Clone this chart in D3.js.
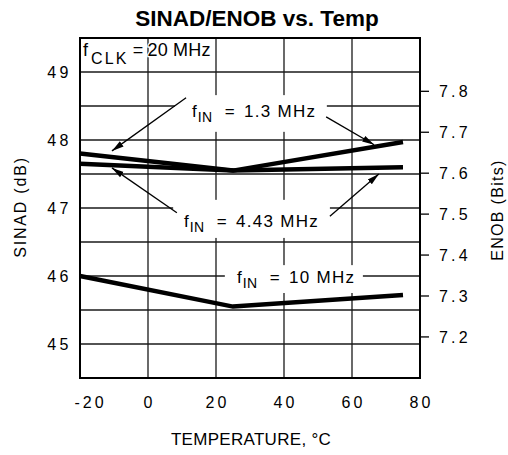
<!DOCTYPE html>
<html>
<head>
<meta charset="utf-8">
<script src="https://cdn.jsdelivr.net/npm/d3@7"></script>
<style>
  html, body { margin: 0; padding: 0; background: #fff; }
  svg { display: block; }
  text { font-family: "Liberation Sans", Arial, sans-serif; fill: #000; }
</style>
</head>
<body>
<svg id="chart" width="508" height="455"></svg>
<script>
// ---- data ----
const temps = [-20, 25, 75];
const sinad_1_3MHz = [47.80, 47.55, 47.97];
const sinad_4_43MHz = [47.65, 47.55, 47.60];
const sinad_10MHz = [46.00, 45.55, 45.72];
const xTicks = [-20, 0, 20, 40, 60, 80];
const yTicks = [45, 46, 47, 48, 49];
const yGrid = [45, 45.5, 46, 46.5, 47, 47.5, 48, 48.5, 49];
const enobTicks = [7.2, 7.3, 7.4, 7.5, 7.6, 7.7, 7.8];
const xGrid = [0, 20, 40, 60];

(function () {
const svg = d3.select("#chart");
const pL = 80, pR = 420, pT = 38, pB = 378;

const x = d3.scaleLinear().domain([-20, 80]).range([pL, pR]);
const y = d3.scaleLinear().domain([44.5, 49.5]).range([pB, pT]);
const toEnob = s => (s - 1.76) / 6.02;
const yR = d3.scaleLinear().domain([toEnob(44.5), toEnob(49.5)]).range([pB, pT]);

// title
svg.append("text").attr("x", 257).attr("y", 26).attr("text-anchor", "middle")
  .style("font-weight", "bold").style("font-size", "22.5px").text("SINAD/ENOB vs. Temp");

// grid
const grid = svg.append("g").attr("stroke", "#1a1a1a").attr("stroke-width", 1.3);
grid.selectAll("line.h").data(yGrid).join("line").attr("class", "h")
  .attr("x1", pL).attr("x2", pR).attr("y1", d => y(d)).attr("y2", d => y(d));
grid.selectAll("line.v").data(xGrid).join("line").attr("class", "v")
  .attr("y1", pT).attr("y2", pB).attr("x1", d => x(d)).attr("x2", d => x(d));

// label background boxes (white)
function box(t0, t1, s0, s1) {
  svg.append("rect").attr("x", x(t0)).attr("y", y(s0))
    .attr("width", x(t1) - x(t0)).attr("height", y(s1) - y(s0)).attr("fill", "#fff");
}
box(7.9, 52.6, 48.66, 48.12);   // 1.3 MHz label
box(7.4, 53.5, 47.12, 46.56);   // 4.43 MHz label
box(22.6, 63.2, 46.16, 45.75);  // 10 MHz label

// frame
svg.append("rect").attr("x", pL).attr("y", pT).attr("width", pR - pL).attr("height", pB - pT)
  .attr("fill", "none").attr("stroke", "#000").attr("stroke-width", 2);

// left axis labels
svg.append("g").selectAll("text").data(yTicks).join("text")
  .attr("x", 72).attr("y", d => y(d) + 6).attr("text-anchor", "end")
  .style("font-size", "16px").style("letter-spacing", "3.5px").text(d => d);

// bottom axis labels
svg.append("g").selectAll("text").data(xTicks).join("text")
  .attr("x", d => x(d) + 1.5 + (d < 0 ? 9 : 0)).attr("y", 408).attr("text-anchor", "middle")
  .style("font-size", "16px").style("letter-spacing", "3px").text(d => d);

// right axis (ENOB)
const ra = svg.append("g");
ra.selectAll("line").data(enobTicks).join("line")
  .attr("x1", pR).attr("x2", pR + 9).attr("y1", d => yR(d)).attr("y2", d => yR(d))
  .attr("stroke", "#000").attr("stroke-width", 1.3);
ra.selectAll("text").data(enobTicks).join("text")
  .attr("x", 439).attr("y", d => yR(d) + 6)
  .style("font-size", "16px").style("letter-spacing", "3.2px").text(d => d.toFixed(1));

// axis titles
svg.append("text").attr("transform", "translate(26,207) rotate(-90)").attr("text-anchor", "middle")
  .style("font-size", "16px").style("letter-spacing", "1.8px").text("SINAD (dB)");
svg.append("text").attr("transform", "translate(503,210) rotate(-90)").attr("text-anchor", "middle")
  .style("font-size", "16px").style("letter-spacing", "1.3px").text("ENOB (Bits)");
svg.append("text").attr("x", 251).attr("y", 445).attr("text-anchor", "middle")
  .style("font-size", "17px").style("letter-spacing", "0.3px").text("TEMPERATURE, \u00B0C");

// data lines
const line = d3.line().x((d, i) => x(temps[i])).y(d => y(d));
[sinad_1_3MHz, sinad_4_43MHz, sinad_10MHz].forEach(s => {
  svg.append("path").datum(s).attr("d", line).attr("fill", "none")
    .attr("stroke", "#000").attr("stroke-width", 4.5).attr("stroke-linejoin", "miter");
});

// arrow marker
svg.append("defs").append("marker").attr("id", "ah").attr("viewBox", "0 0 12 8")
  .attr("refX", 12).attr("refY", 4).attr("markerWidth", 12).attr("markerHeight", 8)
  .attr("markerUnits", "userSpaceOnUse").attr("orient", "auto")
  .append("path").attr("d", "M0,0.8 L12,4 L0,7.2 Z").attr("fill", "#000");

function arrow(t0, s0, t1, s1) {
  svg.append("line").attr("x1", x(t0)).attr("y1", y(s0)).attr("x2", x(t1)).attr("y2", y(s1))
    .attr("stroke", "#000").attr("stroke-width", 1.3).attr("marker-end", "url(#ah)");
}
arrow(11.2, 48.62, -10.6, 47.84);  // 1.3 left
arrow(52.4, 48.34, 66.5, 47.93);   // 1.3 right
arrow(8.5, 46.93, -10.6, 47.59);   // 4.43 left
arrow(53.5, 46.88, 67.9, 47.50);   // 4.43 right

// fIN labels
function fLabel(px, py, sub, rest, opt) {
  const t = svg.append("text").attr("x", px).attr("y", py).style("font-size", opt.fs + "px");
  t.append("tspan").text("f");
  t.append("tspan").attr("dy", opt.drop).attr("dx", opt.sdx).style("font-size", opt.sfs + "px")
    .style("letter-spacing", opt.sls + "px").text(sub);
  t.append("tspan").attr("dy", -opt.drop).attr("dx", opt.gap1).style("letter-spacing", opt.ls + "px").text("=");
  t.append("tspan").attr("dx", opt.gap2).style("letter-spacing", opt.ls + "px").text(rest);
  return t;
}
fLabel(192, 117, "IN", "1.3 MHz", {fs: 17, sfs: 14, sls: 0.5, sdx: 1, drop: 4.5, gap1: 12, gap2: 8, ls: 1.3});
fLabel(184, 227, "IN", "4.43 MHz", {fs: 17, sfs: 14, sls: 0.5, sdx: 1, drop: 4.5, gap1: 12, gap2: 8, ls: 1.3});
fLabel(237, 283, "IN", "10 MHz", {fs: 17, sfs: 14, sls: 0.5, sdx: 1, drop: 4.5, gap1: 12, gap2: 8, ls: 1.3});

// fCLK label
const fc = fLabel(83, 56, "CLK", "20 MHz", {fs: 18, sfs: 16, sls: 2.2, sdx: 3, drop: 8, gap1: 4, gap2: 4, ls: 0.2});
fc.attr("stroke", "#fff").attr("stroke-width", 2.5).style("paint-order", "stroke");
})();
</script>
</body>
</html>
